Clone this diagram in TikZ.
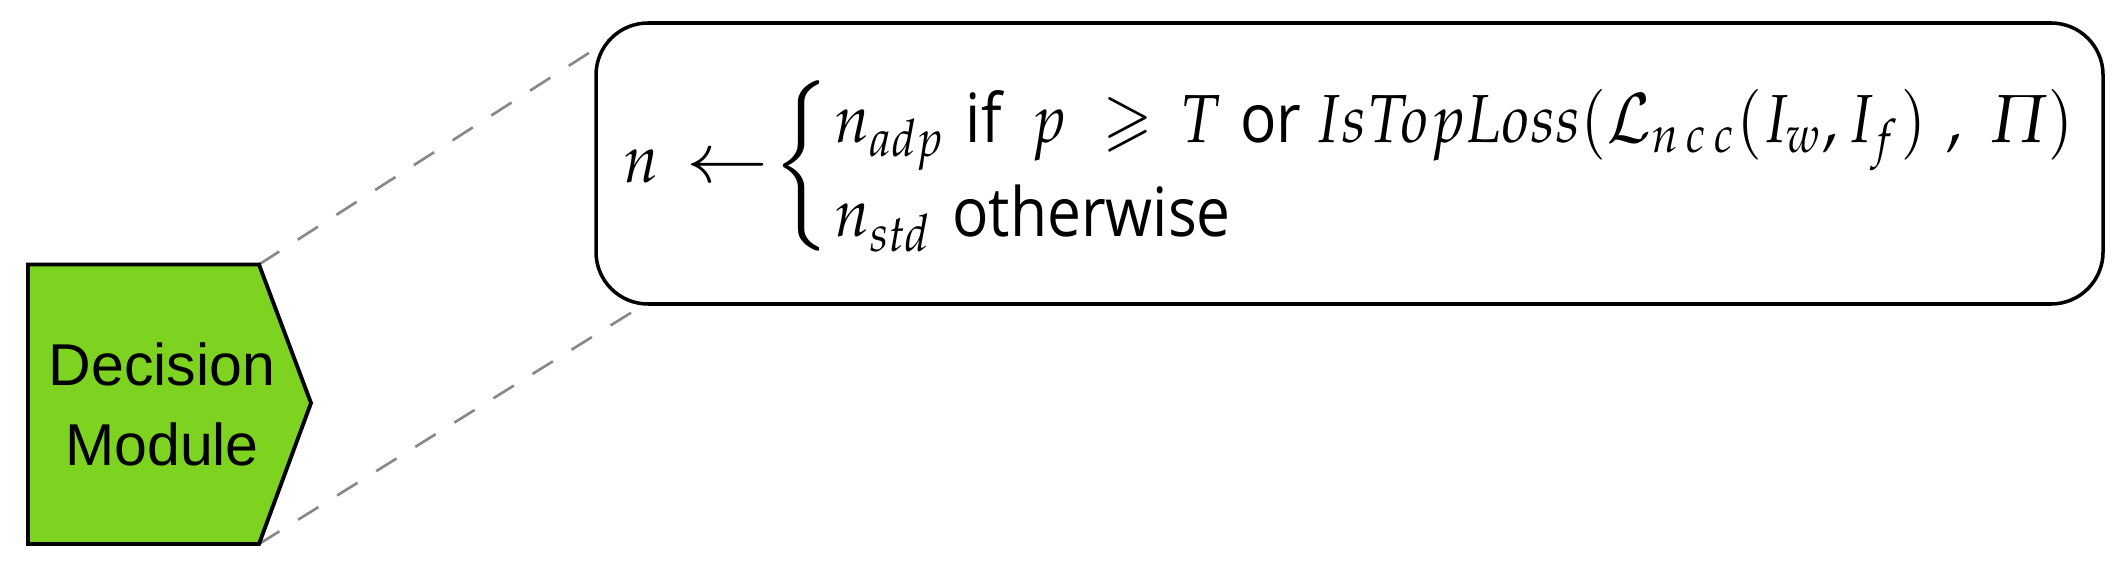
\documentclass[tikz,border=0pt]{standalone}
\usepackage{amsmath,amssymb}
\usepackage{mathpazo}
\usepackage[no-math]{fontspec}
\setsansfont{Open Sans}
\newfontfamily\dmfont{Liberation Sans}
\usetikzlibrary{calc,backgrounds}
\definecolor{dmgreen}{RGB}{126,211,33}
\definecolor{dashgray}{RGB}{136,136,136}
\newsavebox\eqsave
\newlength\capht
\newlength\eqw
\newlength\bracelen
\tikzset{
  dmshape/.style={draw=black, fill=dmgreen, line width=1.1pt, line join=miter},
  dmtext/.style={align=center, inner sep=0pt, font=\dmfont\fontsize{16.8}{22.7}\selectfont},
  eqbox/.style={draw=black, fill=white, line width=1pt, rounded corners=0.52cm,
    minimum width=15.07cm, minimum height=2.81cm, inner sep=0pt},
  eqtextstyle/.style={anchor=base west, inner sep=0pt},
  zoomline/.style={draw=dashgray, line width=0.75pt, dash pattern=on 2.4mm off 2.2mm}
}
\begin{document}
\settoheight{\capht}{$T$}%
\setlength\bracelen{3.785\capht}%
\sbox\eqsave{$n\mkern3mu \mathrel{\scalebox{1.3}[1]{$\leftarrow$}}\mkern-4mu \vcenter{\hbox{\resizebox*{!}{\bracelen}{$\Bigl\{$}}}\mkern1mu
  \rlap{\raisebox{\dimexpr\fontdimen22\textfont2-1.51\capht}{$n_{std}\ \textsf{otherwise}$}}%
  \raisebox{\dimexpr\fontdimen22\textfont2+0.506\capht}{$n_{adp}\ \textsf{if}\ \,p\ \geqslant\,T\ \textsf{or}\mkern4mu IsTopLoss(\mathcal{L}_{n\,c\,c}(I_w, I_f)\ ,\ \varPi)$}$}%
\setlength\eqw{\wd\eqsave}%
\pgfmathsetmacro\hfac{14.5cm/\eqw}%
\pgfmathsetmacro\vfac{13.37pt/\capht}%
\begin{tikzpicture}
\useasboundingbox (0,0) rectangle (21.17,5.8);
% pentagon corners
\coordinate (tl) at (0.28,3.155);
\coordinate (tr) at (2.59,3.155);
\coordinate (tip) at (3.11,1.77);
\coordinate (br) at (2.59,0.36);
\coordinate (bl) at (0.28,0.36);
\draw[dmshape] (tl) -- (tr) -- (tip) -- (br) -- (bl) -- cycle;
\node[dmtext] (dm) at (1.62,1.755) {Decision\\Module};
% equation box
\node[eqbox] (eq) at (13.495,4.165) {};
\node[eqtextstyle] (eqtext) at (6.23,3.97) {\scalebox{\hfac}[\vfac]{\usebox\eqsave}};
\coordinate (eqU) at ($(eq.north west)+(0.16,-0.18)$);
\coordinate (eqL) at ($(eq.south west)+(0.48,0)$);
\begin{scope}[on background layer]
\draw[zoomline] (tr) -- (eqU);
\draw[zoomline] (br) -- (eqL);
\end{scope}
\end{tikzpicture}
\end{document}
